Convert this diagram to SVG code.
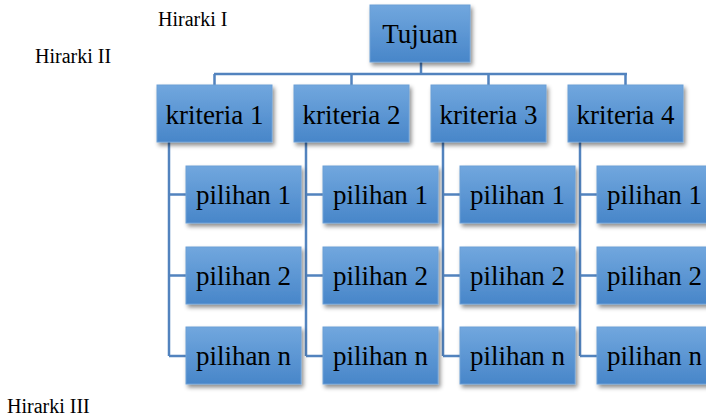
<svg xmlns="http://www.w3.org/2000/svg" width="706" height="417" viewBox="0 0 706 417">
<defs>
<linearGradient id="g" x1="0" y1="0" x2="0" y2="1">
<stop offset="0" stop-color="#71A7DE"/>
<stop offset="1" stop-color="#4886C9"/>
</linearGradient>
<filter id="sh" x="-20%" y="-20%" width="150%" height="160%">
<feDropShadow dx="2" dy="3" stdDeviation="2" flood-color="#000" flood-opacity="0.45"/>
</filter>
</defs>
<style>
.b{fill:url(#g);stroke:#6C9FD6;stroke-width:1;filter:url(#sh)}
text{font-family:'Liberation Serif','Times New Roman','DejaVu Serif',serif;fill:#000}
.t{font-size:27px;text-anchor:middle}
.l{font-size:20px}
.c{fill:none;stroke:#5283BE;stroke-width:2.5}
</style>
<rect width="706" height="417" fill="#fff"/>
<g id="connectors">
<path class="c" d="M421 62V74M214 74H627M214.5 74V85M351.5 74V85M488.5 74V85M625.5 74V85"/>
<path class="c" d="M169 142V356M169 194.5H186M169 275.5H186M169 356H186"/>
<path class="c" d="M306 142V356M306 194.5H323M306 275.5H323M306 356H323"/>
<path class="c" d="M443 142V356M443 194.5H460M443 275.5H460M443 356H460"/>
<path class="c" d="M580 142V356M580 194.5H597M580 275.5H597M580 356H597"/>
</g>
<g id="tujuan"><rect class="b" x="370" y="5" width="100" height="57"/><text class="t" x="420" y="43" font-family="Liberation Serif, serif">Tujuan</text></g>
<g id="kriteria1"><rect class="b" x="157" y="85" width="115" height="57"/><text class="t" x="214.5" y="124" font-family="Liberation Serif, serif">kriteria 1</text></g>
<g id="kriteria2"><rect class="b" x="294" y="85" width="115" height="57"/><text class="t" x="351.5" y="124" font-family="Liberation Serif, serif">kriteria 2</text></g>
<g id="kriteria3"><rect class="b" x="431" y="85" width="115" height="57"/><text class="t" x="488.5" y="124" font-family="Liberation Serif, serif">kriteria 3</text></g>
<g id="kriteria4"><rect class="b" x="568" y="85" width="115" height="57"/><text class="t" x="625.5" y="124" font-family="Liberation Serif, serif">kriteria 4</text></g>
<g id="k1p1"><rect class="b" x="186" y="166" width="115" height="57"/><text class="t" x="243.5" y="204" font-family="Liberation Serif, serif">pilihan 1</text></g>
<g id="k1p2"><rect class="b" x="186" y="247" width="115" height="57"/><text class="t" x="243.5" y="285" font-family="Liberation Serif, serif">pilihan 2</text></g>
<g id="k1pn"><rect class="b" x="186" y="327" width="115" height="57"/><text class="t" x="243.5" y="365" font-family="Liberation Serif, serif">pilihan n</text></g>
<g id="k2p1"><rect class="b" x="323" y="166" width="115" height="57"/><text class="t" x="380.5" y="204" font-family="Liberation Serif, serif">pilihan 1</text></g>
<g id="k2p2"><rect class="b" x="323" y="247" width="115" height="57"/><text class="t" x="380.5" y="285" font-family="Liberation Serif, serif">pilihan 2</text></g>
<g id="k2pn"><rect class="b" x="323" y="327" width="115" height="57"/><text class="t" x="380.5" y="365" font-family="Liberation Serif, serif">pilihan n</text></g>
<g id="k3p1"><rect class="b" x="460" y="166" width="115" height="57"/><text class="t" x="517.5" y="204" font-family="Liberation Serif, serif">pilihan 1</text></g>
<g id="k3p2"><rect class="b" x="460" y="247" width="115" height="57"/><text class="t" x="517.5" y="285" font-family="Liberation Serif, serif">pilihan 2</text></g>
<g id="k3pn"><rect class="b" x="460" y="327" width="115" height="57"/><text class="t" x="517.5" y="365" font-family="Liberation Serif, serif">pilihan n</text></g>
<g id="k4p1"><rect class="b" x="597" y="166" width="115" height="57"/><text class="t" x="654.5" y="204" font-family="Liberation Serif, serif">pilihan 1</text></g>
<g id="k4p2"><rect class="b" x="597" y="247" width="115" height="57"/><text class="t" x="654.5" y="285" font-family="Liberation Serif, serif">pilihan 2</text></g>
<g id="k4pn"><rect class="b" x="597" y="327" width="115" height="57"/><text class="t" x="654.5" y="365" font-family="Liberation Serif, serif">pilihan n</text></g>
<g id="labels">
<text class="l" x="158" y="26" font-family="Liberation Serif, serif">Hirarki I</text>
<text class="l" x="35" y="63" font-family="Liberation Serif, serif">Hirarki II</text>
<text class="l" x="7" y="413" font-family="Liberation Serif, serif">Hirarki III</text>
</g>
</svg>
